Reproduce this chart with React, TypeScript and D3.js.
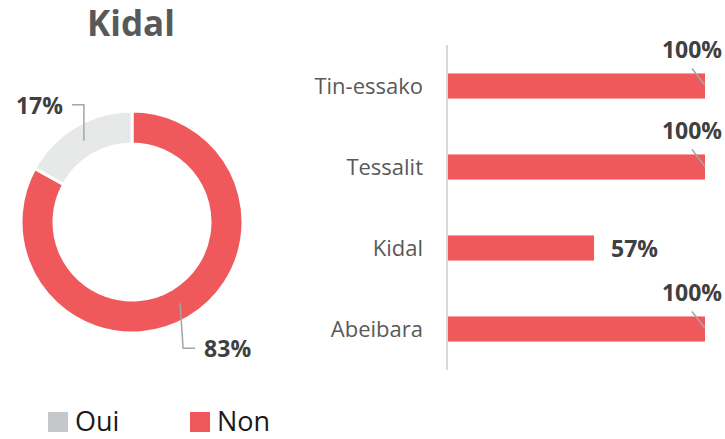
import React from "react";
import * as d3 from "d3";

const title = "Kidal";
const donutLabels = ["Non", "Oui"];
const donutValues = [83, 17];
const barCategories = ["Tin-essako", "Tessalit", "Kidal", "Abeibara"];
const barValues = [1.0, 1.0, 0.57, 1.0];
const legendLabels = ["Oui", "Non"];

const W = 725;
const H = 439;
const RED = "#F0595B";
const GREY = "#E7E8E8";
const LEGEND_GREY = "#C6C7C8";
const FONT = "'Open Sans', 'Noto Sans', sans-serif";

const Donut = () => {
  const cx = 132;
  const cy = 222;
  const outer = 111;
  const inner = 78;
  const pie = d3.pie<number>().sort(null).value((d) => d);
  const arcs = pie(donutValues);
  const arc = d3.arc<d3.PieArcDatum<number>>().innerRadius(inner).outerRadius(outer);
  const colors = [RED, GREY];

  return (
    <g transform={`translate(${cx},${cy})`}>
      {arcs.map((a, i) => (
        <path key={donutLabels[i]} d={arc(a) || ""} fill={colors[i]} stroke="#fff" strokeWidth={3} />
      ))}
      {arcs.map((a, i) => {
        const [x, y] = arc.centroid(a);
        const down = y > 0;
        const ey = down ? y + 45 : y - 36;
        const ex = down ? x + 3 : x;
        const hx = down ? ex + 12 : ex - 12;
        const pct = Math.round((a.value / d3.sum(donutValues)) * 100) + "%";
        return (
          <g key={"l" + i}>
            <polyline
              points={`${x},${y} ${ex},${ey} ${hx},${ey}`}
              fill="none"
              stroke="#A6A6A6"
              strokeWidth={1.5}
            />
            <text
              x={down ? hx + 9 : hx - 9}
              y={ey + 9}
              textAnchor={down ? "start" : "end"}
              fontFamily={FONT}
              fontWeight="bold"
              fontSize={23}
              fill="#404040"
            >
              {pct}
            </text>
          </g>
        );
      })}
    </g>
  );
};

const Bars = () => {
  const x = d3.scaleLinear().domain([0, 1]).range([447, 705]);
  const y = d3
    .scaleBand<string>()
    .domain(barCategories)
    .range([45.5, 369.5])
    .paddingInner(0.69)
    .paddingOuter(0.345);
  const bw = y.bandwidth();

  return (
    <g>
      {barCategories.map((c, i) => {
        const top = y(c) as number;
        const end = x(barValues[i]);
        const full = barValues[i] >= 0.99;
        return (
          <g key={c}>
            <rect x={x(0)} y={top} width={end - x(0)} height={bw} fill={RED} />
            <text
              x={423}
              y={top + bw / 2 + 7.5}
              textAnchor="end"
              fontFamily={FONT}
              fontSize={22}
              fill="#595959"
            >
              {c}
            </text>
            {full ? (
              <g>
                <line x1={end - 13} y1={top - 5} x2={end} y2={top + 12} stroke="#A6A6A6" strokeWidth={1.5} />
                <text
                  x={end - 13}
                  y={top - 15}
                  textAnchor="middle"
                  fontFamily={FONT}
                  fontWeight="bold"
                  fontSize={23}
                  fill="#404040"
                >
                  {Math.round(barValues[i] * 100)}%
                </text>
              </g>
            ) : (
              <text
                x={end + 17}
                y={top + bw / 2 + 9}
                fontFamily={FONT}
                fontWeight="bold"
                fontSize={23}
                fill="#404040"
              >
                {Math.round(barValues[i] * 100)}%
              </text>
            )}
          </g>
        );
      })}
      <line x1={x(0)} y1={45} x2={x(0)} y2={370} stroke="#D9D9D9" strokeWidth={2} />
    </g>
  );
};

const Legend = () => {
  const xs = [48, 190];
  const cols = [LEGEND_GREY, RED];
  return (
    <g>
      {legendLabels.map((l, i) => (
        <g key={l}>
          <rect x={xs[i]} y={412} width={20} height={20} fill={cols[i]} />
          <text x={xs[i] + 27} y={431} fontFamily={FONT} fontSize={27} fill="#1a1a1a">
            {l}
          </text>
        </g>
      ))}
    </g>
  );
};

export default function App() {
  return (
    <div style={{ position: "fixed", left: 0, top: 0, width: W, height: H, overflow: "hidden" }}>
      <svg width={W} height={H} style={{ display: "block", background: "#fff" }}>
        <text
          x={131}
          y={36}
          textAnchor="middle"
          fontFamily={FONT}
          fontWeight="bold"
          fontSize={35}
          fill="#595959"
        >
          {title}
        </text>
        <Donut />
        <Bars />
        <Legend />
      </svg>
    </div>
  );
}
